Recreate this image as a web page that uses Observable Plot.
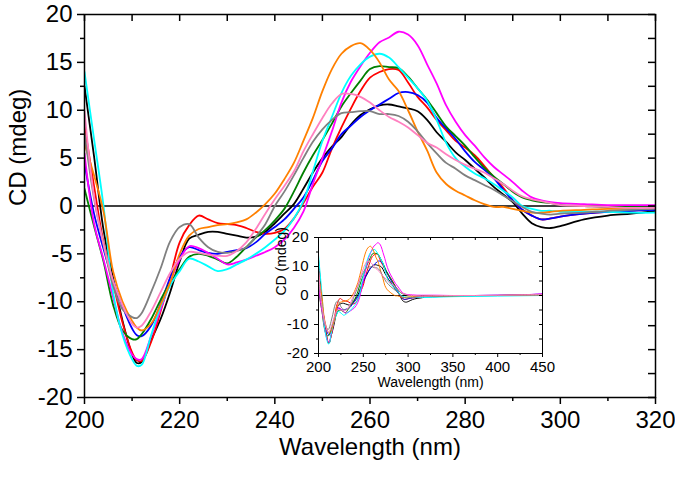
<!DOCTYPE html>
<html><head><meta charset="utf-8">
<script src="https://cdn.jsdelivr.net/npm/d3@7"></script>
<script src="https://cdn.jsdelivr.net/npm/@observablehq/plot@0.6"></script>
<style>
body{margin:0;background:#fff;}
#wrap{position:relative;width:675px;height:480px;font-family:"Liberation Sans",Arial,sans-serif;}
#wrap svg{position:absolute;}
</style></head><body><div id="wrap"></div>
<script>
// Wavelength grid (nm)
const wavelengths = [200,202,204,206,208,210,211,212,214,216,218,220,222,224,226,228,230,232,234,236,238,240,242,244,246,248,250,252,254,256,258,260,262,264,266,268,270,272,274,276,278,280,282,284,286,288,290,292,294,296,298,300,305,310,315,320];
const black   = [12.5,5.2,-2.5,-7.5,-12,-15.5,-16.4,-16.3,-14,-11.8,-9,-5.8,-3.4,-3.0,-2.7,-2.7,-2.9,-3.1,-3.3,-3.2,-2.7,-1.8,-0.8,0.2,1.8,3.5,5.0,6.2,7.2,8.5,9.5,10.1,10.5,10.6,10.4,10.2,9.9,9.0,7.7,6.7,5.6,4.8,3.9,3.0,2.0,1.2,0.4,-0.8,-1.8,-2.2,-2.3,-2.1,-1.4,-1.0,-0.8,-0.5];
const red     = [8.4,2.1,-3.8,-8.0,-12.2,-15.3,-16.1,-16.2,-14.2,-11.0,-7.5,-3.8,-2.0,-1.0,-1.4,-1.8,-1.9,-2.0,-2.3,-2.7,-2.9,-2.8,-2.4,-1.3,0.3,2.0,3.5,6.0,8.2,10.2,12.0,13.4,14.0,14.3,14.2,12.9,11.4,10.3,9.0,7.9,6.8,6.1,5.3,4.2,3.0,1.9,0.6,-0.4,-1.0,-1.4,-1.3,-1.1,-0.8,-0.6,-0.5,-0.3];
const blue    = [4.5,-0.8,-4.5,-7.8,-10.5,-12.8,-13.5,-13.6,-12.5,-10.2,-7.5,-5.3,-4.3,-4.6,-4.9,-5.0,-4.8,-4.6,-4.4,-3.8,-2.9,-2.2,-1.4,-0.3,0.9,2.7,4.7,6.0,7.5,8.4,9.3,10.0,10.6,11.2,11.8,11.9,11.6,10.8,9.2,8.1,7.0,5.7,4.6,3.8,2.9,1.7,0.6,-0.4,-1.0,-1.4,-1.3,-1.1,-0.8,-0.6,-0.5,-0.4];
const green   = [1.8,-2.1,-5.8,-10.3,-13.0,-13.9,-13.9,-13.4,-11.8,-9.8,-8.0,-6.6,-5.3,-5.0,-5.2,-5.6,-6.0,-5.3,-4.3,-3.3,-2.5,-1.5,-0.3,1.5,3.5,5.3,6.9,8.6,10.4,11.8,13.1,14.3,14.6,14.5,14.4,13.5,12.3,11.1,9.7,8.3,7.3,6.3,5.1,4.0,3.1,2.3,1.5,0.9,0.6,0.4,0.3,0.1,0.0,-0.1,-0.1,-0.2];
const magenta = [5.5,-1.8,-5.6,-9.5,-13.3,-15.5,-16.0,-16.0,-13.6,-10.8,-8.0,-5.6,-4.2,-4.4,-4.9,-5.5,-6.1,-5.9,-5.6,-5.2,-4.8,-4.3,-3.5,-2.3,-0.6,2.3,5.0,7.8,10.8,13.0,14.6,16.0,17.1,17.6,18.2,17.9,16.8,14.8,12.8,10.5,8.8,7.4,6.3,5.1,4.1,3.3,2.5,1.6,0.9,0.6,0.4,0.3,0.2,0.1,0.1,0.1];
const cyan    = [14.0,7.0,0.0,-9.0,-13.5,-16.0,-16.7,-16.6,-13.5,-10.5,-8.3,-6.8,-5.5,-5.8,-6.3,-6.8,-6.6,-6.1,-5.6,-5.0,-4.3,-3.5,-2.6,-1.3,0.5,3.6,6.8,9.3,11.8,13.6,14.8,15.6,15.9,15.5,14.5,13.4,12.3,11.0,9.0,6.6,5.0,4.1,3.4,2.9,2.3,1.6,0.9,0.0,-0.3,-0.5,-0.5,-0.6,-0.6,-0.6,-0.7,-0.7];
const orange  = [6.5,3.2,-0.6,-6.8,-10.0,-12.0,-12.7,-13.0,-12.3,-10.3,-8.0,-5.0,-3.1,-2.4,-2.2,-2.0,-1.9,-1.7,-1.4,-0.7,0.2,1.3,2.8,4.5,6.8,9.2,12.0,14.3,15.9,16.7,17.0,16.3,15.0,13.2,12.0,10.0,7.8,5.8,3.5,2.3,1.6,1.1,0.6,0.2,-0.1,-0.1,-0.3,-0.5,-0.7,-0.7,-0.6,-0.5,-0.4,-0.3,-0.3,-0.2];
const gray    = [7.6,0.8,-4.0,-8.3,-10.8,-11.6,-11.7,-11.2,-9.0,-6.5,-3.7,-2.2,-1.9,-3.3,-4.3,-4.8,-4.9,-4.7,-4.3,-3.2,-1.9,0.0,1.5,3.2,5.0,6.7,8.0,9.0,9.7,9.8,9.9,9.9,9.6,9.6,9.4,8.8,7.8,6.6,5.5,4.5,3.9,3.2,2.7,2.2,1.7,1.1,0.5,-0.1,-0.6,-0.8,-0.9,-0.8,-0.7,-0.5,-0.4,-0.3];
const pink    = [9.9,1.0,-4.0,-7.8,-10.4,-12.3,-12.7,-12.5,-11.0,-9.0,-7.0,-5.5,-4.8,-4.9,-5.1,-5.2,-5.2,-4.7,-3.8,-2.4,-0.8,0.7,2.1,3.6,5.7,7.5,9.2,10.7,11.7,11.7,11.4,10.8,10.0,9.3,8.8,8.2,7.4,6.6,6.1,5.4,4.8,4.3,3.9,3.5,2.9,2.3,1.6,1.0,0.7,0.5,0.3,0.1,0.0,-0.1,-0.2,-0.2];

// Inset continues to 450 nm
const tailWavelengths = [330,350,375,400,425,450];
const tailBlack   = [-0.4,-0.2,-0.1,0,0.1,0.2];
const tailRed     = [-0.2,-0.1,0,0,0.1,0.3];
const tailBlue    = [-0.3,-0.1,0,0.1,0.2,0.5];
const tailGreen   = [-0.2,-0.1,0,0,0.1,0.2];
const tailMagenta = [0.1,0,0,0.1,0.2,0.6];
const tailCyan    = [-0.6,-0.4,-0.3,-0.2,-0.1,0.0];
const tailOrange  = [-0.2,-0.1,0,0,0.1,0.2];
const tailGray    = [-0.2,-0.1,0,0,0.1,0.2];
const tailPink    = [-0.1,0,0,0.1,0.2,0.3];

const seriesNames  = ["Sample 1","Sample 2","Sample 3","Sample 4","Sample 5","Sample 6","Sample 7","Sample 8","Sample 9"];
const seriesColors = ["#000000","#ff0000","#0000ff","#008000","#ff00ff","#00ffff","#ff8000","#808080","#ff80c0"];
const mainValues = [black,red,blue,green,magenta,cyan,orange,gray,pink];
const tailValues = [tailBlack,tailRed,tailBlue,tailGreen,tailMagenta,tailCyan,tailOrange,tailGray,tailPink];

const xMajor = [200,220,240,260,280,300,320];
const xMinor = [210,230,250,270,290,310];
const yMajor = [-20,-15,-10,-5,0,5,10,15,20];
const yMinor = [-17.5,-12.5,-7.5,-2.5,2.5,7.5,12.5,17.5];
const insetXTicks = [200,250,300,350,400,450];
const insetXMinor = [225,275,325,375,425];
const insetYTicks = [-20,-10,0,10,20];
const insetYMinor = [-15,-5,5,15];

const mainRows = [];
seriesNames.forEach((s, i) => wavelengths.forEach((w, j) => mainRows.push({series: s, w, v: mainValues[i][j]})));
const insetRows = [];
seriesNames.forEach((s, i) => {
  wavelengths.forEach((w, j) => insetRows.push({series: s, w, v: mainValues[i][j]}));
  tailWavelengths.forEach((w, j) => insetRows.push({series: s, w, v: tailValues[i][j]}));
});

const font = "Liberation Sans, Arial, sans-serif";
const colorScale = {type: "ordinal", domain: seriesNames, range: seriesColors};

// frame-relative tick helpers (inset values are pixel offsets from the frame edges)
function frameTicks(xs, xm, ys, ym, W, H, major, minor, inward, sw) {
  const id = d => d;
  return [
    Plot.tickX(xs, {x: id, insetTop: H, insetBottom: -major, stroke: "#000", strokeWidth: sw}),
    Plot.tickX(xm, {x: id, insetTop: H, insetBottom: -minor, stroke: "#000", strokeWidth: sw}),
    Plot.tickX(xs.concat(xm), {x: id, insetTop: 0, insetBottom: H - inward, stroke: "#000", strokeWidth: sw}),
    Plot.tickY(ys, {y: id, insetLeft: -major, insetRight: W, stroke: "#000", strokeWidth: sw}),
    Plot.tickY(ym, {y: id, insetLeft: -minor, insetRight: W, stroke: "#000", strokeWidth: sw}),
    Plot.tickY(ys.concat(ym), {y: id, insetLeft: W - inward, insetRight: 0, stroke: "#000", strokeWidth: sw})
  ];
}

const main = Plot.plot({
  width: 675, height: 480,
  marginLeft: 84, marginRight: 20, marginTop: 14, marginBottom: 83,
  style: {fontFamily: font, background: "white", color: "black", overflow: "visible"},
  x: {domain: [200, 320]},
  y: {domain: [-20, 20]},
  color: colorScale,
  marks: [
    Plot.ruleY([0], {stroke: "#000", strokeWidth: 1.5}),
    Plot.line(mainRows, {x: "w", y: "v", z: "series", stroke: "series", strokeWidth: 1.8, curve: "catmull-rom", clip: true}),
    Plot.frame({stroke: "#000", strokeWidth: 1.5}),
    ...frameTicks(xMajor, xMinor, yMajor, yMinor, 571, 383, 7, 4, 7, 1.5),
    Plot.axisX({anchor: "bottom", ticks: xMajor, tickSize: 0, tickPadding: 13, fontSize: 24, label: null, tickFormat: d => String(d)}),
    Plot.axisY({anchor: "left", ticks: yMajor, tickSize: 0, tickPadding: 12, fontSize: 24, label: null, tickFormat: d => String(d)}),
    Plot.text(["Wavelength (nm)"], {text: d => d, frameAnchor: "bottom", dy: 57, fontSize: 24}),
    Plot.text(["CD (mdeg)"], {text: d => d, frameAnchor: "left", dx: -66, rotate: -90, fontSize: 24})
  ]
});
main.style.left = "0px"; main.style.top = "0px";

const inset = Plot.plot({
  width: 286, height: 170,
  marginLeft: 50, marginRight: 12, marginTop: 8, marginBottom: 46,
  style: {fontFamily: font, background: "none", color: "black", overflow: "visible"},
  x: {domain: [200, 450]},
  y: {domain: [-20, 20]},
  color: colorScale,
  marks: [
    Plot.ruleY([0], {stroke: "#000", strokeWidth: 1}),
    Plot.line(insetRows, {x: "w", y: "v", z: "series", stroke: "series", strokeWidth: 1, curve: "catmull-rom", clip: true}),
    Plot.frame({stroke: "#000", strokeWidth: 1}),
    ...frameTicks(insetXTicks, insetXMinor, insetYTicks, insetYMinor, 224, 116, 4, 2, 3, 1),
    Plot.axisX({anchor: "bottom", ticks: insetXTicks, tickSize: 0, tickPadding: 8, fontSize: 15, label: null, tickFormat: d => String(d)}),
    Plot.axisY({anchor: "left", ticks: insetYTicks, tickSize: 0, tickPadding: 10, fontSize: 15, label: null, tickFormat: d => String(d)}),
    Plot.text(["Wavelength (nm)"], {text: d => d, frameAnchor: "bottom", dy: 33, fontSize: 14}),
    Plot.text(["CD (mdeg)"], {text: d => d, frameAnchor: "left", dx: -37, rotate: -90, fontSize: 14})
  ]
});
inset.style.left = "268px"; inset.style.top = "229px";

const wrap = document.getElementById("wrap");
wrap.appendChild(main);
wrap.appendChild(inset);
</script>
</body></html>
